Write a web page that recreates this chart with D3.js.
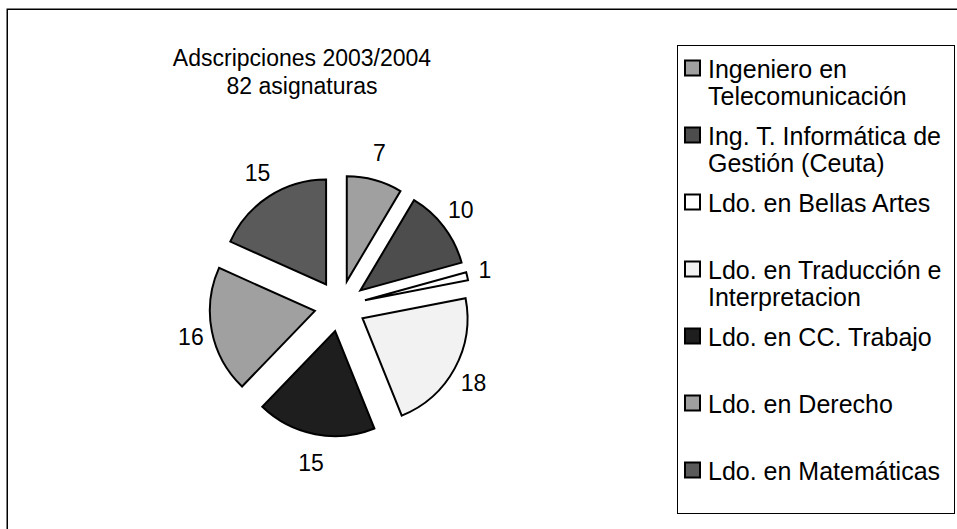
<!DOCTYPE html>
<html>
<head>
<meta charset="utf-8">
<script src="https://cdn.jsdelivr.net/npm/d3@7"></script>
<style>
  html, body { margin: 0; padding: 0; background: #fff; }
  svg { display: block; font-family: "Liberation Sans", Arial, sans-serif; }
</style>
</head>
<body>
<svg id="chart" width="957" height="529"></svg>
<script>
const categories = [
  ["Ingeniero en", "Telecomunicación"],
  ["Ing. T. Informática de", "Gestión (Ceuta)"],
  ["Ldo. en Bellas Artes"],
  ["Ldo. en Traducción e", "Interpretacion"],
  ["Ldo. en CC. Trabajo"],
  ["Ldo. en Derecho"],
  ["Ldo. en Matemáticas"]
];
const values = [7, 10, 1, 18, 15, 16, 15];
const colors = ["#a0a0a0", "#4d4d4d", "#ffffff", "#f2f2f2", "#1e1e1e", "#a0a0a0", "#5a5a5a"];
const titleLines = ["Adscripciones 2003/2004", "82 asignaturas"];

const svg = d3.select("#chart");

// outer frame
svg.append("rect").attr("x", 7.25).attr("y", 9.25).attr("width", 1200).attr("height", 800)
  .attr("fill", "none").attr("stroke", "#000").attr("stroke-width", 1.5);

// title
const title = svg.append("text").attr("text-anchor", "middle").attr("font-size", 23).attr("fill", "#000");
titleLines.forEach((t, i) => {
  title.append("tspan").attr("x", 302).attr("y", 66 + i * 28).text(t);
});

// pie
const cx = 340, cy = 306, r = 105, explode = 25.6;
const pie = d3.pie().sort(null).value(d => d);
const arcs = pie(values);
const arc = d3.arc().innerRadius(0).outerRadius(r);
const g = svg.append("g").attr("transform", `translate(${cx},${cy})`);

g.selectAll("path").data(arcs).enter().append("path")
  .attr("d", arc)
  .attr("transform", d => {
    const m = (d.startAngle + d.endAngle) / 2;
    return `translate(${explode * Math.sin(m)},${-explode * Math.cos(m)})`;
  })
  .attr("fill", (d, i) => colors[i])
  .attr("stroke", "#000").attr("stroke-width", 2).attr("stroke-linejoin", "miter");

// labels
const labelR = 145.5, lh = 14;
g.selectAll("text.lbl").data(arcs).enter().append("text")
  .attr("class", "lbl")
  .attr("font-size", 23)
  .attr("text-anchor", "middle")
  .each(function(d) {
    const m = (d.startAngle + d.endAngle) / 2;
    const s = Math.sin(m), c = -Math.cos(m);
    const w = String(d.data).length * 3.2;
    const x = labelR * s + s * w;
    const y = labelR * c + c * lh;
    d3.select(this).attr("x", x).attr("y", y + 8.5).text(d.data);
  });

// legend
svg.append("rect").attr("x", 677.5).attr("y", 45.5).attr("width", 277).attr("height", 468)
  .attr("fill", "#fff").attr("stroke", "#000").attr("stroke-width", 1);

const legY0 = 77.5, legStep = 67;
categories.forEach((lines, i) => {
  const y = legY0 + i * legStep;
  svg.append("rect").attr("x", 685).attr("y", y - 17).attr("width", 15).attr("height", 15)
    .attr("fill", colors[i]).attr("stroke", "#000").attr("stroke-width", 2);
  const t = svg.append("text").attr("font-size", 25).attr("fill", "#000");
  lines.forEach((ln, j) => {
    t.append("tspan").attr("x", 708).attr("y", y + j * 27.5).text(ln);
  });
});
</script>
</body>
</html>
